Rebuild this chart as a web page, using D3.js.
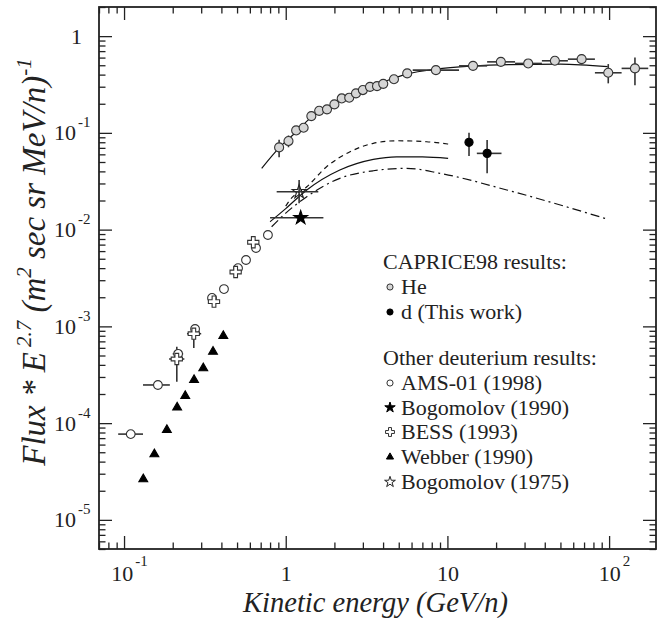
<!DOCTYPE html>
<html>
<head>
<meta charset="utf-8">
<script src="https://cdn.jsdelivr.net/npm/d3@7"></script>
<style>
  body { margin: 0; background: #fff; }
  svg text { font-family: "Liberation Serif", "Times New Roman", Times, serif; fill: #222; }
</style>
</head>
<body>
<div id="chart"></div>
<script>
// ---- data ----
// CAPRICE98 helium
const heE = [0.91, 1.04, 1.16, 1.29, 1.44, 1.61, 1.80, 2.00, 2.22, 2.47, 2.72, 3.0, 3.32, 3.67, 4.01, 4.67, 5.64, 8.49, 14.4, 21.4, 31.6, 46.2, 67.6, 98.8, 144.5];
const heF = [0.0708, 0.0823, 0.106, 0.113, 0.149, 0.169, 0.175, 0.197, 0.227, 0.231, 0.256, 0.277, 0.299, 0.304, 0.321, 0.358, 0.412, 0.445, 0.493, 0.542, 0.522, 0.556, 0.578, 0.418, 0.464];
const heXErr = [null, null, null, null, null, null, null, null, null, null, null, null, null, null, null, null, null,
  [6.1, 11.8], [11.8, 17.6], [17.6, 26.2], [26.2, 38.4], [38.4, 55.6], [55.6, 81.7], [81.7, 119.5], [119.5, 174.6]];
const heYErr = [[0.056, 0.085], [0.071, 0.094], null, null, null, null, null, null, null, null, null, null, null, null, null, null, null,
  null, null, null, null, null, [0.51, 0.65], [0.325, 0.514], [0.31, 0.60]];
// He fit line
const heFitE = [0.71, 0.91, 1.16, 1.42, 1.78, 2.2, 2.7, 3.3, 4.0, 5.6, 8.5, 14, 24, 50, 98];
const heFitF = [0.043, 0.070, 0.102, 0.142, 0.180, 0.223, 0.258, 0.297, 0.335, 0.405, 0.456, 0.49, 0.508, 0.514, 0.484];

// CAPRICE98 deuterium (this work)
const dE = [13.6, 17.6];
const dF = [0.0798, 0.0614];
const dXErr = [[13.0, 14.3], [15.2, 21.6]];
const dYErr = [[0.0576, 0.100], [0.0382, 0.0843]];

// deuterium model curves
const modelDashE = [1.0, 1.06, 1.35, 1.79, 2.5, 3.48, 4.85, 7.44, 10.1];
const modelDashF = [0.0175, 0.0202, 0.0277, 0.0447, 0.0638, 0.078, 0.0829, 0.081, 0.0766];
const modelSolidE = [0.80, 1.0, 1.35, 2.16, 3.48, 4.85, 7.0, 10.1];
const modelSolidF = [0.01207, 0.0165, 0.0257, 0.0413, 0.0532, 0.0566, 0.0565, 0.0545];
const modelDotE = [0.818, 1.0, 1.35, 2.16, 3.48, 5.6, 8.99, 23.3, 98.7];
const modelDotF = [0.0107, 0.0148, 0.0219, 0.0339, 0.0406, 0.043, 0.0382, 0.0257, 0.01277];

// other deuterium measurements
const amsE = [0.110, 0.162, 0.216, 0.275, 0.350, 0.415, 0.507, 0.568, 0.655, 0.776];
const amsF = [7.7e-5, 2.48e-4, 5.2e-4, 9.4e-4, 1.97e-3, 2.43e-3, 4.0e-3, 4.85e-3, 6.45e-3, 8.8e-3];
const amsXErr = [[0.092, 0.131], [0.131, 0.192], [0.200, 0.232], null, null, null, null, null, null, null];

const bessE = [0.212, 0.27, 0.36, 0.49, 0.63];
const bessF = [4.6e-4, 8.4e-4, 1.8e-3, 3.65e-3, 7.4e-3];
const bessYErr = [[2.68e-4, 6.17e-4], [5.98e-4, 1.0e-3], null, null, null];
const bessXErr = [[0.190, 0.236], [0.245, 0.30], null, null, null];

const webE = [0.1315, 0.154, 0.184, 0.213, 0.239, 0.271, 0.309, 0.355, 0.411];
const webF = [2.63e-5, 4.77e-5, 8.5e-5, 1.45e-4, 1.91e-4, 2.79e-4, 3.69e-4, 5.48e-4, 7.96e-4];

const bog90E = [1.237], bog90F = [0.01327], bog90XErr = [[0.80, 1.71]];
const bog75E = [1.21], bog75F = [0.0246], bog75XErr = [[0.879, 1.59]], bog75YErr = [[0.0187, 0.0325]];

const xMajor = [0.1, 1, 10, 100];
const yMajor = [1, 0.1, 0.01, 0.001, 1e-4, 1e-5];

const legend1Title = "CAPRICE98 results:";
const legend1 = ["He", "d (This work)"];
const legend2Title = "Other deuterium results:";
const legend2 = ["AMS-01 (1998)", "Bogomolov (1990)", "BESS (1993)", "Webber (1990)", "Bogomolov (1975)"];

// ---- layout ----
const W = 657, H = 618;
const mLeft = 99, mRight = 656, mTop = 7, mBottom = 549;

const svg = d3.select("#chart").append("svg")
    .attr("width", W)
    .attr("height", H)
    .attr("font-family", "'Liberation Serif', 'Times New Roman', Times, serif");

const x = d3.scaleLog().domain([0.07, 195]).range([mLeft, mRight]);
const y = d3.scaleLog().domain([5e-6, 2]).range([mBottom, mTop]);

// minor tick values 2..9 per decade
function minors(scale) {
    const [a, b] = scale.domain();
    const out = [];
    for (let e = -7; e <= 3; e++) {
        for (let m = 2; m <= 9; m++) {
            const v = m * Math.pow(10, e);
            if (v >= a * 0.999 && v <= b * 1.001) out.push(v);
        }
    }
    return out;
}

function supLabel(sel, v, supSize, rise) {
    const e = Math.round(Math.log10(v));
    sel.text(null);
    if (e === 0) { sel.text("1"); return; }
    if (e === 1) { sel.text("10"); return; }
    sel.append("tspan").text("10");
    sel.append("tspan").attr("dx", 2).attr("dy", -rise).attr("font-size", supSize).text(e);
}

const axisColor = "#222";

// bottom axis with labels
const gx = svg.append("g").attr("transform", `translate(0,${mBottom})`)
    .call(d3.axisBottom(x).tickValues(xMajor).tickSize(-13).tickPadding(16));
gx.selectAll("text")
    .attr("font-size", 22)
    .attr("dx", d => (d === 1 || d === 10) ? 0 : 5)
    .each(function (d) { supLabel(d3.select(this), d, 15, 15); });
svg.append("g").attr("transform", `translate(0,${mBottom})`)
    .call(d3.axisBottom(x).tickValues(minors(x)).tickSize(-6.5).tickFormat(""));

// top axis
svg.append("g").attr("transform", `translate(0,${mTop})`)
    .call(d3.axisTop(x).tickValues(xMajor).tickSize(-13).tickFormat(""));
svg.append("g").attr("transform", `translate(0,${mTop})`)
    .call(d3.axisTop(x).tickValues(minors(x)).tickSize(-6.5).tickFormat(""));

// left axis with labels
const gy = svg.append("g").attr("transform", `translate(${mLeft},0)`)
    .call(d3.axisLeft(y).tickValues(yMajor).tickSize(-13));
gy.selectAll("text")
    .attr("font-size", 22)
    .attr("text-anchor", "start")
    .attr("x", d => d === 1 ? -28 : -45)
    .each(function (d) { supLabel(d3.select(this), d, 15, 13); });
svg.append("g").attr("transform", `translate(${mLeft},0)`)
    .call(d3.axisLeft(y).tickValues(minors(y)).tickSize(-6.5).tickFormat(""));

// right axis
svg.append("g").attr("transform", `translate(${mRight},0)`)
    .call(d3.axisRight(y).tickValues(yMajor).tickSize(-13).tickFormat(""));
svg.append("g").attr("transform", `translate(${mRight},0)`)
    .call(d3.axisRight(y).tickValues(minors(y)).tickSize(-6.5).tickFormat(""));

svg.selectAll(".domain").remove();
svg.selectAll(".tick line").attr("stroke", axisColor).attr("stroke-width", 1.3);
// axis groups set a sans font by default; drop it so the serif from the svg applies
svg.selectAll("g").attr("font-family", null);

// frame
svg.append("rect")
    .attr("x", mLeft).attr("y", mTop)
    .attr("width", mRight - mLeft).attr("height", mBottom - mTop)
    .attr("fill", "none").attr("stroke", axisColor).attr("stroke-width", 1.8);

// axis titles
svg.append("text")
    .attr("x", (mLeft + mRight) / 2 - 2)
    .attr("y", 612)
    .attr("text-anchor", "middle")
    .attr("font-size", 28.5)
    .attr("font-style", "italic")
    .text("Kinetic energy (GeV/n)");

const yt = svg.append("text")
    .attr("transform", "translate(45,262) rotate(-90)")
    .attr("text-anchor", "middle")
    .attr("font-size", 33)
    .attr("font-style", "italic");
yt.append("tspan").text("Flux * E");
yt.append("tspan").attr("dx", 5).attr("dy", -14).attr("font-size", 21).text("2.7");
yt.append("tspan").attr("dy", 14).text(" (m");
yt.append("tspan").attr("dy", -14).attr("font-size", 21).text("2");
yt.append("tspan").attr("dy", 14).text(" sec sr MeV/n)");
yt.append("tspan").attr("dy", -14).attr("font-size", 21).text("-1");

// ---- curves ----
const line = d3.line().x(d => x(d[0])).y(d => y(d[1])).curve(d3.curveMonotoneX);
const zip = (a, b) => a.map((v, i) => [v, b[i]]);

const plot = svg.append("g");

plot.append("path").datum(zip(heFitE, heFitF))
    .attr("d", line).attr("fill", "none").attr("stroke", "#111").attr("stroke-width", 1.2);
plot.append("path").datum(zip(modelDashE, modelDashF))
    .attr("d", line).attr("fill", "none").attr("stroke", "#111").attr("stroke-width", 1.2)
    .attr("stroke-dasharray", "5,4");
plot.append("path").datum(zip(modelSolidE, modelSolidF))
    .attr("d", line).attr("fill", "none").attr("stroke", "#111").attr("stroke-width", 1.2);
plot.append("path").datum(zip(modelDotE, modelDotF))
    .attr("d", line).attr("fill", "none").attr("stroke", "#111").attr("stroke-width", 1.2)
    .attr("stroke-dasharray", "9,4,2,4");

// ---- error bars ----
const errColor = "#333";
function errBars(E, F, xe, ye) {
    const g = plot.append("g").attr("stroke", errColor).attr("stroke-width", 1.6);
    E.forEach((e, i) => {
        if (xe && xe[i]) {
            g.append("line").attr("x1", x(xe[i][0])).attr("x2", x(xe[i][1]))
                .attr("y1", y(F[i])).attr("y2", y(F[i]));
        }
        if (ye && ye[i]) {
            g.append("line").attr("x1", x(e)).attr("x2", x(e))
                .attr("y1", y(ye[i][0])).attr("y2", y(ye[i][1]));
        }
    });
}
errBars(heE, heF, heXErr, heYErr);
errBars(dE, dF, dXErr, dYErr);
errBars(amsE, amsF, amsXErr, null);
errBars(bessE, bessF, bessXErr, bessYErr);
errBars(bog90E, bog90F, bog90XErr, null);
errBars(bog75E, bog75F, bog75XErr, bog75YErr);

// ---- markers ----
function markers(E, F, type, size, fill, stroke) {
    plot.append("g").selectAll("path")
        .data(zip(E, F))
        .join("path")
        .attr("transform", d => `translate(${x(d[0])},${y(d[1])})`)
        .attr("d", d3.symbol().type(type).size(size))
        .attr("fill", fill)
        .attr("stroke", stroke)
        .attr("stroke-width", 1.1);
}
markers(heE, heF, d3.symbolCircle, 64, "#d6d6d6", "#333");
markers(dE, dF, d3.symbolCircle, 52, "#000", "#000");
markers(amsE, amsF, d3.symbolCircle, 60, "#fff", "#333");
markers(bessE, bessF, d3.symbolCross, 70, "#fff", "#333");
markers(webE, webF, d3.symbolTriangle, 34, "#000", "#000");
markers(bog90E, bog90F, d3.symbolStar, 60, "#000", "#000");
markers(bog75E, bog75F, d3.symbolStar, 60, "none", "#222");

// ---- legend ----
const lg = svg.append("g").attr("font-size", 22);
const legendRows = [
    { text: legend1Title, yc: 262 },
    { text: legend1[0], yc: 287, type: d3.symbolCircle, size: 30, fill: "#d6d6d6", stroke: "#333" },
    { text: legend1[1], yc: 312, type: d3.symbolCircle, size: 30, fill: "#000", stroke: "#000" },
    { text: legend2Title, yc: 358 },
    { text: legend2[0], yc: 383, type: d3.symbolCircle, size: 30, fill: "#fff", stroke: "#333" },
    { text: legend2[1], yc: 407.5, type: d3.symbolStar, size: 34, fill: "#000", stroke: "#000" },
    { text: legend2[2], yc: 432, type: d3.symbolCross, size: 44, fill: "#fff", stroke: "#333" },
    { text: legend2[3], yc: 457, type: d3.symbolTriangle, size: 22, fill: "#000", stroke: "#000" },
    { text: legend2[4], yc: 482, type: d3.symbolStar, size: 36, fill: "none", stroke: "#222" }
];
legendRows.forEach(r => {
    if (r.type) {
        lg.append("path")
            .attr("transform", `translate(390,${r.yc})`)
            .attr("d", d3.symbol().type(r.type).size(r.size))
            .attr("fill", r.fill).attr("stroke", r.stroke).attr("stroke-width", 1);
        lg.append("text").attr("x", 401).attr("y", r.yc + 7).text(r.text);
    } else {
        lg.append("text").attr("x", 383).attr("y", r.yc + 7).text(r.text);
    }
});
</script>
</body>
</html>
